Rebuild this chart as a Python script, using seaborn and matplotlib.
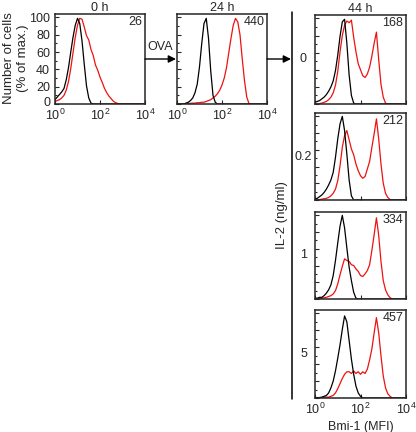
import numpy as np
import pandas as pd
import matplotlib.pyplot as plt
import seaborn as sns
from matplotlib.patches import FancyArrowPatch
from matplotlib.lines import Line2D
from matplotlib.transforms import ScaledTranslation
from matplotlib.ticker import MultipleLocator, LogLocator, NullFormatter

sns.set_style("ticks")
plt.rcParams["font.family"] = ["Liberation Sans", "DejaVu Sans"]
plt.rcParams["mathtext.fontset"] = "custom"
plt.rcParams["mathtext.rm"] = "Liberation Sans"
plt.rcParams["mathtext.it"] = "Liberation Sans"

# log10 of Bmi-1 fluorescence (bin centres)
log_mfi = [0.0, 0.1, 0.2, 0.3, 0.4, 0.5, 0.6, 0.7, 0.8, 0.9,
           1.0, 1.1, 1.2, 1.3, 1.4, 1.5, 1.6, 1.7, 1.8, 1.9,
           2.0, 2.1, 2.2, 2.3, 2.4, 2.5, 2.6, 2.7, 2.8, 2.9,
           3.0, 3.1, 3.2, 3.3, 3.4, 3.5, 3.6, 3.7, 3.8, 3.9, 4.0]

# % of max, black = control, red = Bmi-1
black_0h = [5, 8, 11, 14, 18, 28, 42, 60, 77, 91,
            99, 93, 73, 46, 21, 7, 1] + [0] * 24
red_0h = [3, 4, 5, 7, 10, 16, 26, 41, 59, 77,
          91, 99, 98, 89, 79, 74, 63, 56, 45, 39,
          31, 25, 18, 13, 9, 6, 3, 1.5, 0.5] + [0] * 12

black_24h = [0, 0, 0, 0, 1, 2, 4, 7, 13, 23,
             43, 70, 93, 99, 76, 38, 10, 2] + [0] * 23
red_24h = [0, 0, 0, 0.3, 0.5, 0.5, 0.8, 1, 1, 1.5,
           1.5, 2, 2, 3, 4, 5, 7, 9, 12, 16,
           22, 30, 42, 59, 76, 91, 99, 95, 80, 52,
           27, 8, 0.5] + [0] * 8

black_il0 = [2, 3, 4, 6, 8, 11, 15, 20, 27, 39,
             57, 79, 96, 99, 71, 34, 10, 1, 0] + [0] * 22
red_il0 = [0, 0, 0.5, 1, 2, 3, 5, 8, 13, 22,
           38, 61, 80, 92, 97, 95, 98, 78, 61, 47,
           40, 33, 31, 35, 43, 56, 71, 84, 52, 23,
           8, 1, 0] + [0] * 8

black_il02 = [1, 2, 4, 6, 9, 13, 18, 24, 33, 51,
              73, 91, 100, 83, 55, 24, 5, 0] + [0] * 23
red_il02 = [0, 0, 0.5, 1, 1.5, 2, 3, 5, 8, 13,
            23, 41, 63, 77, 83, 72, 61, 54, 43, 35,
            29, 26, 28, 37, 46, 63, 79, 97, 73, 43,
            20, 8, 3, 0.5] + [0] * 7

black_il1 = [1, 1, 2, 2, 4, 7, 11, 17, 28, 46,
             67, 87, 100, 85, 61, 38, 22, 8, 1, 0] + [0] * 21
red_il1 = [0, 0, 0.5, 1, 1.5, 2, 3, 4, 6, 10,
           18, 29, 39, 48, 46, 45, 41, 40, 36, 33,
           28, 27, 30, 34, 41, 58, 77, 97, 76, 45,
           22, 11, 5, 1.5, 0] + [0] * 6

black_il5 = [0.5, 0.5, 0.5, 1, 2, 3, 6, 12, 20, 32,
             47, 63, 81, 97, 90, 68, 46, 28, 14, 6,
             2, 0] + [0] * 19
red_il5 = [0, 0, 0, 0.5, 1, 1, 1, 2, 3, 6,
           11, 17, 23, 28, 31, 31, 29, 32, 29, 31,
           28, 31, 29, 34, 45, 58, 77, 95, 77, 50,
           26, 12, 5, 2, 0] + [0] * 6

counts = ["26", "440", "168", "212", "334", "457"]
il2_doses = ["0", "0.2", "1", "5"]
time_titles = ["0 h", "24 h", "44 h"]

W, H = 416, 432
fig = plt.figure(figsize=(W / 100, H / 100), dpi=100)


def add_ax(left, top, right, bottom):
    return fig.add_axes([left / W, 1 - bottom / H,
                         (right - left) / W, (bottom - top) / H])


def draw_panel(ax, black, red, count, xlabels=True, ylabels=False):
    df = pd.DataFrame({"mfi": 10 ** np.array(log_mfi),
                       "black": black, "red": red})
    sns.lineplot(data=df, x="mfi", y="red", color="#ee1111",
                 lw=0.9, ax=ax)
    sns.lineplot(data=df, x="mfi", y="black", color="black",
                 lw=0.9, ax=ax)
    ax.set_xscale("log")
    ax.set_xlim(1, 1e4)
    ax.set_ylim(0, 104)
    ax.set_xlabel("")
    ax.set_ylabel("")
    ax.set_xticks([1, 100, 1e4])
    ax.xaxis.set_minor_locator(LogLocator(base=10, subs=range(1, 10)))
    ax.xaxis.set_minor_formatter(NullFormatter())
    ax.set_yticks([0, 20, 40, 60, 80, 100])
    ax.yaxis.set_minor_locator(MultipleLocator(10))
    if xlabels:
        ax.set_xticklabels([r"$10^0$", r"$10^2$", r"$10^4$"])
    else:
        ax.set_xticklabels([])
    if not ylabels:
        ax.set_yticklabels([])
    ax.tick_params(which="both", direction="in", top=False, right=False,
                   width=0.8, labelsize=9)
    ax.tick_params(axis="x", pad=2.5)
    ax.tick_params(axis="y", pad=3.5)
    ax.tick_params(which="major", length=3)
    ax.tick_params(which="minor", length=1.6)
    for s in ax.spines.values():
        s.set_linewidth(1.1)
        s.set_visible(True)
    ax.text(0.97, 0.975, count, transform=ax.transAxes,
            ha="right", va="top", fontsize=9)


ax_0h = add_ax(55, 14, 145, 104)
draw_panel(ax_0h, black_0h, red_0h, counts[0], ylabels=True)
ax_0h.set_title(time_titles[0], fontsize=9, pad=2)
# lift the "0" label a little so it clears the 10^0 label
zero_lbl = ax_0h.get_yticklabels()[0]
zero_lbl.set_transform(zero_lbl.get_transform()
                       + ScaledTranslation(0, 2 / 72, fig.dpi_scale_trans))

ax_24h = add_ax(177, 14, 267, 104)
draw_panel(ax_24h, black_24h, red_24h, counts[1])
ax_24h.set_title(time_titles[1], fontsize=9, pad=2)

rows = [(15, 104), (113, 200), (212, 299), (310, 398)]
series_44h = [(black_il0, red_il0), (black_il02, red_il02),
              (black_il1, red_il1), (black_il5, red_il5)]
for i, ((top, bottom), (blk, rd)) in enumerate(zip(rows, series_44h)):
    ax = add_ax(315, top, 406, bottom)
    draw_panel(ax, blk, rd, counts[i + 2], xlabels=(i == 3))
    if i == 0:
        ax.set_title(time_titles[2], fontsize=9, pad=2)
    if i == 3:
        ax.set_xlabel("Bmi-1 (MFI)", fontsize=9, labelpad=3)
    fig.text(303.5 / W, 1 - (top + bottom) / 2 / H, il2_doses[i],
             ha="center", va="center", fontsize=9)

# y label
fig.text(16 / W, 1 - 58 / H, "Number of cells\n(% of max.)", rotation=90,
         ha="center", va="center", fontsize=9.5, linespacing=1.15)
fig.text(282 / W, 1 - 215 / H, "IL-2 (ng/ml)", rotation=90,
         ha="center", va="center", fontsize=9.5)

# vertical divider
fig.add_artist(Line2D([292 / W, 292 / W], [1 - 12 / H, 1 - 399 / H],
                      transform=fig.transFigure, color="black", lw=1.1))

# arrows
for x0, x1 in [(145, 176), (267, 291)]:
    fig.add_artist(FancyArrowPatch((x0 / W, 1 - 59 / H), (x1 / W, 1 - 59 / H),
                                   transform=fig.transFigure,
                                   arrowstyle="-|>", mutation_scale=11,
                                   color="black", lw=1.0,
                                   shrinkA=0, shrinkB=0))
fig.text(160 / W, 1 - 47 / H, "OVA", ha="center", va="center", fontsize=9)

fig.savefig("out.png", dpi=100)
